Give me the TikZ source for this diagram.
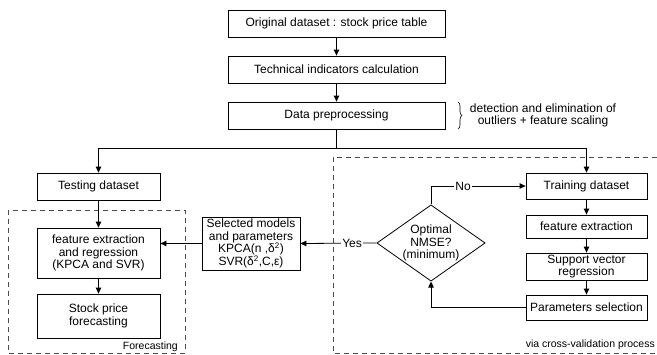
\documentclass[tikz,border=0pt]{standalone}
\usepackage{fontspec}
\setmainfont{Liberation Sans}
\usetikzlibrary{arrows.meta,shapes.geometric,decorations.pathreplacing}
\begin{document}
\begin{tikzpicture}[x=1pt,y=-1pt,
  box/.style={draw, line width=0.8pt, inner sep=0pt, align=center,
    font=\fontsize{12}{12.6}\selectfont},
  arr/.style={line width=0.8pt, -{Triangle[length=6pt,width=5.5pt]}},
  conn/.style={line width=0.8pt},
  dashbox/.style={draw=black!70, line width=0.8pt, dash pattern=on 5pt off 4pt},
  lab/.style={font=\fontsize{12}{12.6}\selectfont, fill=white, inner sep=1pt},
  small/.style={font=\fontsize{10.5}{12}\selectfont, inner sep=0pt}
]
\useasboundingbox (0,0) rectangle (657,354);

% top chain
\node[box, minimum width=217pt, minimum height=27pt] (orig) at (336.5,23.5) {Original dataset : stock price table};
\node[box, minimum width=217pt, minimum height=27pt] (tech) at (336.5,69.5) {Technical indicators calculation};
\node[box, minimum width=217pt, minimum height=27pt] (prep) at (336.5,115.5) {Data preprocessing};

% brace
\coordinate (b1) at (458,102);
\coordinate (b2) at (458,129);
\draw[line width=0.6pt, decorate, decoration={brace, amplitude=4pt}] (b1) -- (b2);
\node[align=center, inner sep=0pt, font=\fontsize{12}{11.5}\selectfont] (brtext) at (543,115.5) {detection and elimination of\\outliers + feature scaling};

% left branch
\node[box, minimum width=123pt, minimum height=27pt] (test) at (98.5,186.5) {Testing dataset};
\node[box, minimum width=123pt, minimum height=50pt] (fer) at (98.5,253) {feature extraction\\and regression\\(KPCA and SVR)};
\node[box, minimum width=123pt, minimum height=44pt] (spf) at (98.5,316) {Stock price\\forecasting};
\node[box, minimum width=98pt, minimum height=53pt] (sel) at (251,243.5) {Selected models\\and parameters\\KPCA(n ,δ\textsuperscript{2})\\SVR(δ\textsuperscript{2},C,ε)};

% right branch
\node[box, minimum width=121pt, minimum height=26pt] (train) at (586.5,186) {Training dataset};
\node[box, minimum width=121pt, minimum height=23pt] (fx) at (586.5,226.5) {feature extraction};
\node[box, minimum width=121pt, minimum height=27pt] (svr) at (586.5,266.5) {Support vector\\regression};
\node[box, minimum width=121pt, minimum height=25pt] (par) at (586.5,307.5) {Parameters selection};
\node[box, shape=diamond, shape aspect=1.42, minimum width=108pt, minimum height=76pt] (dia) at (431,243) {Optimal\\NMSE?\\(minimum)};

% dashed groups
\coordinate (f1) at (8,210);
\coordinate (f2) at (185,353);
\draw[dashbox] (f1) rectangle (f2);
\coordinate (c1) at (657,157);
\coordinate (c2) at (333,157);
\coordinate (c3) at (333,353);
\coordinate (c4) at (657,353);
\draw[dashbox] (c1) -- (c2) -- (c3) -- (c4);
\node[small, anchor=base east] (fclab) at (178,349) {Forecasting};
\node[small, anchor=base east] (cvlab) at (655,347) {via cross-validation process};

% connectors
\draw[arr] (orig) -- (tech);
\draw[arr] (tech) -- (prep);
\coordinate (split) at (336.5,148);
\draw[conn] (prep.south) -- (split);
\draw[arr] (split) -| (test.north);
\draw[arr] (split) -| (train.north);
\draw[arr] (test) -- (fer);
\draw[arr] (fer) -- (spf);
\draw[arr] (sel.west) -- (sel.west -| fer.east);
\draw[arr] (dia.west) -- (sel.east) node[lab, pos=0.32] (yes) {Yes};
\draw[arr] (dia.north) |- (train.west) node[lab, pos=0.67] (no) {No};
\draw[arr] (train) -- (fx);
\draw[arr] (fx) -- (svr);
\draw[arr] (svr) -- (par);
\draw[arr] (par.west) -| (dia.south);
\end{tikzpicture}
\end{document}
